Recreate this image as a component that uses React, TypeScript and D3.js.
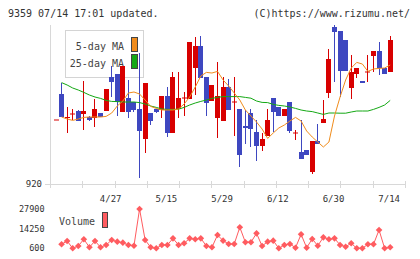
import * as d3 from "d3";
import { useEffect, useRef } from "react";

// daily candles, oldest first (index 0 is the partial leftmost bar)
const opens = [952, 965, 953, 955, 956.5, 955, 953.5, 953, 955.5, 956.5, 973.5, 975, 956, 963, 961, 957.5, 942.5, 955.5, 957.5, 957, 964, 945.5, 957.5, 963, 962.5, 978, 989, 973.5, 961.5, 953, 951.5, 968.5, 961, 957.5, 949, 955.5, 946, 939, 944, 963, 958.5, 954, 961, 945.5, 936, 937, 926, 941.5, 950.5, 965.5, 998.5, 996.5, 992, 968, 975, 971.5, 976, 984, 986.5, 978, 976];
const highs = [952, 970.5, 958.5, 957.5, 957, 971.5, 954, 962.5, 955.5, 967.5, 979, 975, 979, 972, 961, 985.5, 970.5, 955.5, 957.5, 964, 968.5, 976, 976, 966, 991, 993.5, 994, 973.5, 969.5, 981, 973.5, 972.5, 973.5, 957.5, 957, 957.5, 952, 945.5, 957.5, 963, 958.5, 957.5, 961, 947, 952, 937, 941.5, 950, 962, 987.5, 999.5, 996.5, 992, 984.5, 978, 971.5, 984.5, 986.5, 991, 978, 994];
const lows = [952, 953.5, 945.5, 952, 951.5, 947, 951.5, 948.5, 953.5, 956.5, 963.5, 954, 956, 953, 956, 923, 935.5, 949.5, 955.5, 953, 943.5, 945.5, 953, 954, 962.5, 964.5, 973, 954, 961.5, 943, 951.5, 957, 944, 928.5, 940, 938.5, 931.5, 936.5, 944, 946, 954, 954, 945.5, 942, 932.5, 934.5, 925, 940, 950.5, 963, 971, 963.5, 976.5, 962.5, 973, 970.5, 971, 976, 974.5, 975, 976];
const closes = [952, 953.5, 953.5, 955, 951.5, 956.5, 952, 957.5, 953.5, 967.5, 971, 961, 979, 956, 957, 946.5, 970.5, 951.5, 956, 964, 945.5, 973.5, 963, 963, 991, 989, 973, 960.5, 969.5, 964, 968.5, 957, 961, 934.5, 948, 947.5, 939, 942.5, 952, 956, 954, 957.5, 946.5, 945.5, 932.5, 934.5, 941.5, 940, 952.5, 982.5, 996, 976.5, 976.5, 976, 978, 970.5, 976, 986.5, 978, 975, 992];

const ma5 = [null, 953.5, 952.5, 951.8, 952.5, 953.3, 953.5, 953.5, 953.5, 953.8, 955.5, 959, 961.5, 965.5, 966, 965, 962, 958.8, 957.8, 957, 957, 957, 957.5, 960, 963.5, 968.5, 974, 975.8, 975.5, 976.3, 972, 969, 965.5, 962, 957, 954, 951, 947.5, 942.8, 945.5, 948, 949.5, 951.5, 953.3, 951.5, 946.5, 943.5, 941, 938.5, 941, 954, 963.5, 972, 978, 980.8, 980, 976.3, 977.5, 977.8, 978, 979.5];
const ma25 = [null, 970.7, 969.5, 968, 967, 965.8, 964.5, 963.5, 962.8, 961.8, 961.3, 961.2, 961, 961, 961, 960.7, 960, 959, 958.3, 957.5, 957.3, 957.3, 957.4, 958.3, 959.5, 960.5, 961.3, 962, 962.8, 963.3, 963.7, 963.7, 963.7, 963.7, 963.3, 962.9, 961.5, 960.8, 960.7, 959.8, 959.3, 959, 958.5, 957.8, 957, 956.5, 956.2, 955.5, 954.8, 955.5, 955.5, 955.4, 955.4, 956, 956.5, 956.5, 956.5, 957.3, 958.3, 959.5, 961.8];

const volumes = [null, 3400, 5700, 600, 2200, 6900, 1300, 5700, 1300, 2900, 6400, 5200, 4500, 2900, 2400, 27900, 6400, 1300, 600, 2900, 2900, 7500, 2900, 4100, 7500, 6900, 7500, 2200, 1300, 9800, 5900, 3600, 3600, 15200, 4800, 4800, 11000, 2200, 5200, 5900, 600, 2900, 3600, 1000, 10300, 1000, 7100, 2400, 8200, 6900, 7500, 2900, 1700, 4100, 600, 600, 3400, 3400, 13300, 600, 1300];

const dateTicks = [10, 20, 30, 40, 50, 60];
const dateLabels = ["4/27", "5/15", "5/29", "6/12", "6/30", "7/14"];
const priceLabels = [920];
const volumeLabels = [27900, 14250, 600];

const W = 420;
const H = 259;
const UP = "#d80000";
const DOWN = "#3e47c0";
const MA5_COLOR = "#f08c1c";
const MA25_COLOR = "#14a814";
const VOL_COLOR = "#ff5c60";
const GRID = "#d8d8d8";
const TEXT = "#333";
const FONT = "'DejaVu Sans Mono', monospace";

const drawChart = (svgElement: SVGSVGElement) => {
  const svg = d3.select(svgElement);
  svg.selectAll("*").remove();

  const x = d3.scaleLinear().domain([0, 60]).range([56, 390.2]);
  const y = d3.scaleLinear().domain([920, 1005]).range([184, 14]);
  const yVol = d3.scaleLinear().domain([600, 27900]).range([248.3, 209]);
  const xGrid = d3.scaleLinear().domain([0, 11]).range([50, 405]);

  svg.append("rect").attr("width", W).attr("height", H).attr("fill", "white");

  // header
  svg
    .append("text")
    .attr("x", 8)
    .attr("y", 16.5)
    .attr("font-size", 10)
    .attr("font-family", FONT)
    .attr("fill", TEXT)
    .text("9359 07/14 17:01 updated.");
  svg
    .append("text")
    .attr("x", 410)
    .attr("y", 16.5)
    .attr("text-anchor", "end")
    .attr("font-size", 10)
    .attr("font-family", FONT)
    .attr("fill", TEXT)
    .text("(C)https://www.rizumu.net/");

  // axes frame
  const axis = svg.append("g").attr("stroke", GRID).attr("stroke-width", 1);
  axis.append("line").attr("x1", 50.5).attr("x2", 50.5).attr("y1", 25).attr("y2", 184);
  axis.append("line").attr("x1", 45).attr("x2", 405).attr("y1", 184.5).attr("y2", 184.5);
  axis
    .selectAll("line.tick")
    .data(d3.range(12))
    .join("line")
    .attr("class", "tick")
    .attr("x1", (k) => Math.round(xGrid(k)) + 0.5)
    .attr("x2", (k) => Math.round(xGrid(k)) + 0.5)
    .attr("y1", 181)
    .attr("y2", 188);

  svg
    .selectAll("text.price")
    .data(priceLabels)
    .join("text")
    .attr("class", "price")
    .attr("x", 42)
    .attr("y", (v) => y(v))
    .attr("dy", "0.35em")
    .attr("text-anchor", "end")
    .attr("font-size", 9)
    .attr("font-family", FONT)
    .attr("fill", TEXT)
    .text((v) => String(v));

  svg
    .selectAll("text.date")
    .data(dateTicks)
    .join("text")
    .attr("class", "date")
    .attr("x", (i) => x(i) - 1)
    .attr("y", 201.5)
    .attr("text-anchor", "middle")
    .attr("font-size", 9)
    .attr("font-family", FONT)
    .attr("fill", TEXT)
    .text((_, k) => dateLabels[k]);

  // moving average legend (sits under the candles)
  const legend = svg.append("g");
  legend
    .append("rect")
    .attr("x", 65.5)
    .attr("y", 30.5)
    .attr("width", 78)
    .attr("height", 47)
    .attr("fill", "white")
    .attr("stroke", "#d4d4d4");
  const legendItems = [
    { label: "5-day MA", color: MA5_COLOR },
    { label: "25-day MA", color: MA25_COLOR },
  ];
  legendItems.forEach((item, k) => {
    legend
      .append("text")
      .attr("x", 124)
      .attr("y", 50 + k * 17)
      .attr("text-anchor", "end")
      .attr("font-size", 10)
      .attr("font-family", FONT)
      .attr("fill", "#444")
      .text(item.label);
    legend
      .append("rect")
      .attr("x", 131.5)
      .attr("y", 37.5 + k * 17)
      .attr("width", 6)
      .attr("height", 14)
      .attr("fill", item.color)
      .attr("stroke", "#444");
  });

  // candles
  const candles = svg
    .append("g")
    .selectAll("g")
    .data(d3.range(opens.length))
    .join("g");

  const cx = (i: number) => Math.floor(x(i));
  const color = (i: number) => (closes[i] >= opens[i] ? UP : DOWN);

  candles
    .append("line")
    .attr("x1", (i) => cx(i) + 0.5)
    .attr("x2", (i) => cx(i) + 0.5)
    .attr("y1", (i) => y(highs[i]))
    .attr("y2", (i) => y(lows[i]))
    .attr("stroke", color)
    .attr("stroke-width", 1);

  candles
    .append("rect")
    .attr("x", (i) => cx(i) - 2)
    .attr("width", 5)
    .attr("y", (i) => {
      const top = y(Math.max(opens[i], closes[i]));
      return opens[i] === closes[i] ? top - 0.5 : top;
    })
    .attr("height", (i) => Math.max(1, Math.abs(y(opens[i]) - y(closes[i]))))
    .attr("fill", color);

  // moving averages
  const line = d3
    .line<number | null>()
    .defined((v) => v !== null)
    .x((_, i) => x(i))
    .y((v) => y(v as number));

  svg
    .append("path")
    .datum(ma25)
    .attr("d", line)
    .attr("fill", "none")
    .attr("stroke", MA25_COLOR)
    .attr("stroke-width", 1);
  svg
    .append("path")
    .datum(ma5)
    .attr("d", line)
    .attr("fill", "none")
    .attr("stroke", MA5_COLOR)
    .attr("stroke-width", 1);

  // volume panel
  svg
    .selectAll("text.vol")
    .data(volumeLabels)
    .join("text")
    .attr("class", "vol")
    .attr("x", 44.5)
    .attr("y", (v) => yVol(v))
    .attr("dy", "0.35em")
    .attr("text-anchor", "end")
    .attr("font-size", 8.5)
    .attr("font-family", FONT)
    .attr("fill", TEXT)
    .text((v) => String(v));

  svg
    .append("text")
    .attr("x", 59)
    .attr("y", 225)
    .attr("font-size", 10)
    .attr("font-family", FONT)
    .attr("fill", "#444")
    .text("Volume");
  svg
    .append("rect")
    .attr("x", 102.5)
    .attr("y", 212.5)
    .attr("width", 5)
    .attr("height", 15)
    .attr("fill", VOL_COLOR)
    .attr("stroke", "#444");

  const volLine = d3
    .line<number | null>()
    .defined((v) => v !== null)
    .x((_, i) => x(i))
    .y((v) => yVol(v as number));

  svg
    .append("path")
    .datum(volumes)
    .attr("d", volLine)
    .attr("fill", "none")
    .attr("stroke", VOL_COLOR)
    .attr("stroke-width", 1);

  const diamond = d3.symbol().type(d3.symbolSquare).size(22);
  svg
    .append("g")
    .selectAll("path")
    .data(d3.range(volumes.length).filter((i) => volumes[i] !== null))
    .join("path")
    .attr("d", diamond)
    .attr("transform", (i) => `translate(${x(i)},${yVol(volumes[i] as number)}) rotate(45)`)
    .attr("fill", VOL_COLOR);
};

const App = () => {
  const svgRef = useRef<SVGSVGElement | null>(null);

  useEffect(() => {
    if (svgRef.current) drawChart(svgRef.current);
  }, []);

  return (
    <svg
      ref={svgRef}
      width={W}
      height={H}
      style={{ position: "absolute", left: 0, top: 0, display: "block" }}
    />
  );
};

export default App;
